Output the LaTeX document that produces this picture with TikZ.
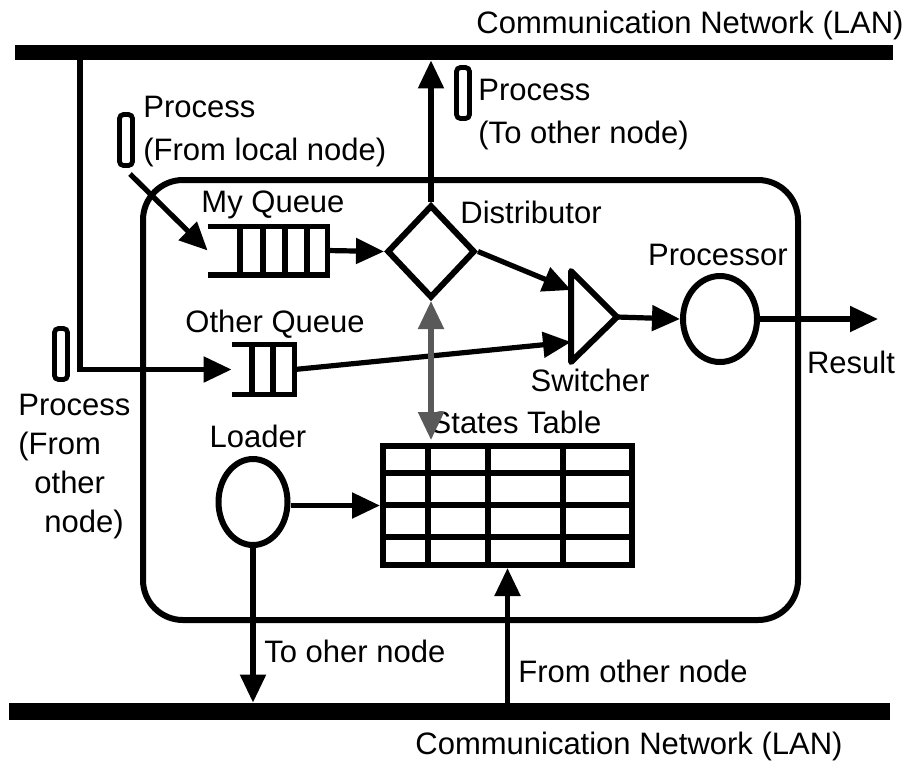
\documentclass[tikz,border=0pt]{standalone}
\usepackage{fontspec}
\setmainfont{Liberation Sans}
\usetikzlibrary{arrows.meta,shapes.geometric}
\begin{document}
\begin{tikzpicture}[x=0.5pt,y=-0.5pt,
  font=\fontsize{15.5pt}{21.5pt}\selectfont,
  lan/.style={fill=black, inner sep=0, minimum height=7.5pt},
  shapeln/.style={draw, line width=3pt, inner sep=0},
  wire/.style={line width=2.6pt},
  arr/.style={wire, -{Triangle[length=14pt,width=12.5pt]}},
  token/.style={draw, line width=2.4pt, rounded corners=2pt, inner sep=0,
                minimum width=6.5pt, minimum height=25.5pt},
  lbl/.style={inner sep=0, anchor=base},
  lblw/.style={inner sep=0, anchor=base west, align=left},
]
\useasboundingbox (0,0) rectangle (903,767);

% host node frame
\node[shapeln, rounded corners=20pt, minimum width=327.5pt, minimum height=220pt]
  (host) at (470.5,400) {};

% network buses
\node[lan, minimum width=439pt] (lanT) at (454,52.5) {};
\node[lan, minimum width=440.5pt, minimum height=8.5pt] (lanB) at (449.5,711.5) {};
\node[lbl] (lanTl) at (690,33) {Communication Network (LAN)};
\node[lbl] (lanBl) at (629,754) {Communication Network (LAN)};

% process tokens (multi-line labels are placed by their last baseline)
\node[token] (plocal) at (126,140) {};
\node[token] (pout) at (463,93) {};
\node[token] (pother) at (61,354) {};
\node[lblw] (plocall) at (143,160) {Process\\(From local node)};
\node[lblw] (poutl) at (478,143) {Process\\(To other node)};
\node[lblw, font=\fontsize{15.5pt}{19.5pt}\selectfont] (potherl) at (18,532)
  {Process\\(From\\\hspace*{8pt}other\\\hspace*{13pt}node)};

% my queue
\node[inner sep=0, minimum width=59.5pt, minimum height=24pt] (myq) at (267.5,250.5) {};
\draw[wire] (myq.north west) -- (myq.north east) -- (myq.south east) -- (myq.south west);
\foreach \qx in {240,263,285,307} \draw[wire] (\qx,226.5) -- (\qx,274.5);
\node[lbl] (myql) at (273,212) {My Queue};

% other queue
\node[inner sep=0, minimum width=31pt, minimum height=24.5pt] (oq) at (263,369.5) {};
\draw[wire] (oq.north west) -- (oq.north east) -- (oq.south east) -- (oq.south west);
\foreach \qx in {252,273} \draw[wire] (\qx,345) -- (\qx,394);
\node[lbl] (oql) at (275,332) {Other Queue};

% distributor
\node[diamond, shapeln, minimum width=44pt, minimum height=46.5pt] (dist) at (431,251.5) {};
\node[lbl] (distl) at (531,223) {Distributor};

% switcher
\coordinate (swTop) at (571,271);
\coordinate (swBot) at (571,362);
\coordinate (swOut) at (617,317);
\coordinate (swIn1) at (571,290);
\coordinate (swIn2) at (571,342);
\draw[line width=3pt, line join=round] (swTop) -- (swOut) -- (swBot) -- cycle;
\node[lbl] (swl) at (590,391) {Switcher};

% processor
\node[ellipse, shapeln, minimum width=37pt, minimum height=43pt] (proc) at (720,319) {};
\node[lbl] (procl) at (718,265) {Processor};
\coordinate (resEnd) at (878,319);
\node[lbl] (resl) at (851,373) {Result};

% loader
\node[ellipse, shapeln, minimum width=34.5pt, minimum height=43pt] (ld) at (253,502) {};
\node[lbl] (ldl) at (258,447) {Loader};

% states table
\node[shapeln, minimum width=124.5pt, minimum height=59.5pt] (tbl) at (507.5,505.5) {};
\foreach \ry in {473,505,537} \draw[line width=2.8pt] (383,\ry) -- (632,\ry);
\foreach \cx in {428,488,563} \draw[line width=2.8pt] (\cx,446) -- (\cx,565);
\node[lbl] (tbll) at (516,433) {States Table};

% connectors
\coordinate (tapL) at (80,60);
\coordinate (plOut) at (130,174);
\draw[wire, -{Triangle[length=14pt,width=12.5pt]}, line join=miter] (tapL) |- (oq.west);
\draw[arr] (plOut) -- (myq.west);
\draw[arr] (myq.east) -- (dist.west);
\draw[arr] (dist.north) -- (dist.north |- lanT.south);
\draw[arr] (dist.east) -- (swIn1);
\draw[arr] (oq.east) -- (swIn2);
\draw[arr] (swOut) -- (proc.west);
\draw[arr] (proc.east) -- (resEnd);
\draw[wire, draw=black!65, fill=black!65,
      {Triangle[length=14pt,width=12.5pt]}-{Triangle[length=14pt,width=12.5pt]},
      shorten >=1.5pt] (dist.south) -- (dist.south |- tbl.north);
\draw[arr] (ld.east |- tbl.west) -- (tbl.west);
\draw[arr] (ld.south) -- (ld.south |- lanB.north);
\draw[arr] (tbl.south |- lanB.north) -- (tbl.south);
\node[lblw] (toOl) at (264,662) {To oher node};
\node[lblw] (fromOl) at (518,682) {From other node};
\end{tikzpicture}
\end{document}
